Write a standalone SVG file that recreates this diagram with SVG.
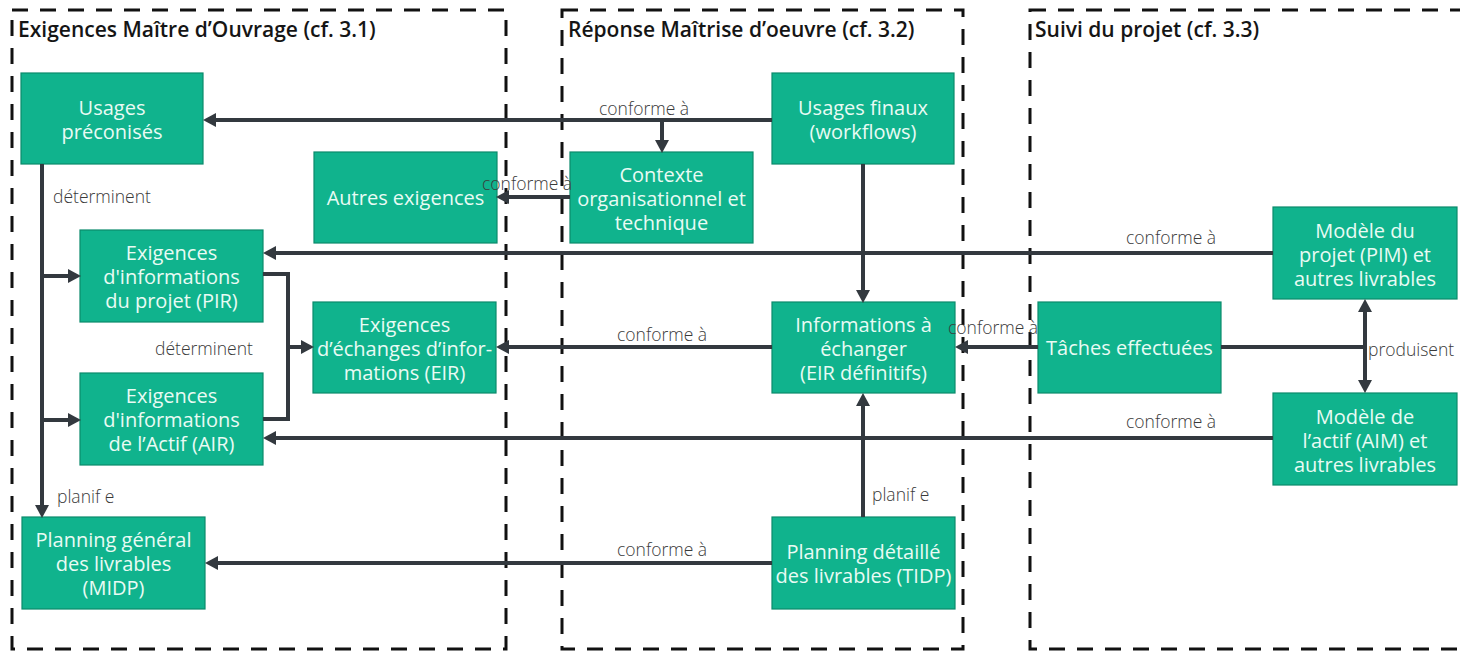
<svg xmlns="http://www.w3.org/2000/svg" width="1460" height="651" viewBox="0 0 1460 651">
  <style>
    .zone { fill: none; stroke: #111; stroke-width: 3; stroke-dasharray: 16 12; }
    .title { font-family: "Open Sans", "Liberation Sans", sans-serif; font-size: 21px; font-weight: 600; fill: #151515; }
    .box { fill: #10b38d; stroke: #0b8a6c; stroke-width: 1.2; }
    .btxt { font-family: "Open Sans", "Liberation Sans", sans-serif; font-size: 20px; fill: #e9fbf4; text-anchor: middle; }
    .lbl { font-family: "Open Sans", "Liberation Sans", sans-serif; font-size: 17.5px; font-weight: 300; fill: #3a3a3a; }
    .conn { fill: none; stroke: #33393f; stroke-width: 4; }
    .arr { marker-end: url(#head); }
    .both { marker-start: url(#tail); marker-end: url(#head); }
  </style>
  <defs>
    <marker id="head" markerUnits="userSpaceOnUse" markerWidth="13" markerHeight="14" refX="6" refY="7" orient="auto">
      <path d="M0,0 L13,7 L0,14 z" fill="#33393f"/>
    </marker>
    <marker id="tail" markerUnits="userSpaceOnUse" markerWidth="13" markerHeight="14" refX="7" refY="7" orient="auto">
      <path d="M13,0 L0,7 L13,14 z" fill="#33393f"/>
    </marker>
  </defs>

  <rect width="1460" height="651" fill="#ffffff"/>

  <!-- swimlane zones -->
  <g id="zones">
    <rect class="zone" x="12" y="10" width="494" height="639"/>
    <rect class="zone" x="562" y="10" width="401" height="639"/>
    <rect class="zone" x="1030" y="10" width="440" height="639"/>
    <text class="title" x="18" y="37">Exigences Maître d’Ouvrage (cf. 3.1)</text>
    <text class="title" x="568" y="37">Réponse Maîtrise d’oeuvre (cf. 3.2)</text>
    <text class="title" x="1035" y="37">Suivi du projet (cf. 3.3)</text>
  </g>

  <!-- nodes -->
  <g id="usages-preconises">
    <rect class="box" x="21" y="73" width="182" height="91"/>
    <text class="btxt" x="112" y="115">Usages</text>
    <text class="btxt" x="112" y="139">préconisés</text>
  </g>
  <g id="autres-exigences">
    <rect class="box" x="314" y="152" width="183" height="91"/>
    <text class="btxt" x="405.5" y="205">Autres exigences</text>
  </g>
  <g id="contexte">
    <rect class="box" x="570" y="152" width="183" height="91"/>
    <text class="btxt" x="661.5" y="182">Contexte</text>
    <text class="btxt" x="661.5" y="206">organisationnel et</text>
    <text class="btxt" x="661.5" y="230">technique</text>
  </g>
  <g id="usages-finaux">
    <rect class="box" x="772" y="73" width="182" height="91"/>
    <text class="btxt" x="863" y="115">Usages finaux</text>
    <text class="btxt" x="863" y="139">(workflows)</text>
  </g>
  <g id="pir">
    <rect class="box" x="80" y="230" width="183" height="92"/>
    <text class="btxt" x="171.5" y="260">Exigences</text>
    <text class="btxt" x="171.5" y="284">d'informations</text>
    <text class="btxt" x="171.5" y="308">du projet (PIR)</text>
  </g>
  <g id="eir">
    <rect class="box" x="313" y="302" width="183" height="91"/>
    <text class="btxt" x="404.5" y="332">Exigences</text>
    <text class="btxt" x="404.5" y="356">d’échanges d’infor-</text>
    <text class="btxt" x="404.5" y="380">mations (EIR)</text>
  </g>
  <g id="air">
    <rect class="box" x="80" y="373" width="183" height="92"/>
    <text class="btxt" x="171.5" y="403">Exigences</text>
    <text class="btxt" x="171.5" y="427">d'informations</text>
    <text class="btxt" x="171.5" y="451">de l’Actif (AIR)</text>
  </g>
  <g id="midp">
    <rect class="box" x="22" y="517" width="183" height="92"/>
    <text class="btxt" x="113.5" y="547">Planning général</text>
    <text class="btxt" x="113.5" y="571">des livrables</text>
    <text class="btxt" x="113.5" y="595">(MIDP)</text>
  </g>
  <g id="informations-a-echanger">
    <rect class="box" x="772" y="302" width="183" height="91"/>
    <text class="btxt" x="863.5" y="332">Informations à</text>
    <text class="btxt" x="863.5" y="356">échanger</text>
    <text class="btxt" x="863.5" y="380">(EIR définitifs)</text>
  </g>
  <g id="tidp">
    <rect class="box" x="772" y="517" width="183" height="92"/>
    <text class="btxt" x="863.5" y="559">Planning détaillé</text>
    <text class="btxt" x="863.5" y="583">des livrables (TIDP)</text>
  </g>
  <g id="pim">
    <rect class="box" x="1273" y="207" width="184" height="92"/>
    <text class="btxt" x="1365" y="238">Modèle du</text>
    <text class="btxt" x="1365" y="262">projet (PIM) et</text>
    <text class="btxt" x="1365" y="286">autres livrables</text>
  </g>
  <g id="taches-effectuees">
    <rect class="box" x="1038" y="302" width="183" height="91"/>
    <text class="btxt" x="1129.5" y="355">Tâches effectuées</text>
  </g>
  <g id="aim">
    <rect class="box" x="1273" y="393" width="184" height="92"/>
    <text class="btxt" x="1365" y="424">Modèle de</text>
    <text class="btxt" x="1365" y="448">l’actif (AIM) et</text>
    <text class="btxt" x="1365" y="472">autres livrables</text>
  </g>

  <!-- connectors and their labels, drawn over the nodes -->
  <g id="connectors">
    <path class="conn arr" d="M772,120 H210"/>
    <path class="conn arr" d="M662,120 V146"/>
    <path class="conn arr" d="M570,197 H503"/>
    <path class="conn arr" d="M863,164 V296"/>
    <path class="conn arr" d="M1273,253 H270"/>
    <path class="conn arr" d="M772,347 H503"/>
    <path class="conn arr" d="M1038,347 H962"/>
    <path class="conn" d="M1221,347 H1365"/>
    <path class="conn both" d="M1365,306 V386"/>
    <path class="conn arr" d="M1273,438 H270"/>
    <path class="conn arr" d="M772,563 H212"/>
    <path class="conn arr" d="M863,517 V400"/>
    <path class="conn arr" d="M42,164 V511"/>
    <path class="conn arr" d="M42,276 H74"/>
    <path class="conn arr" d="M42,420 H74"/>
    <path class="conn" d="M263,274 H288 V419 H263"/>
    <path class="conn arr" d="M288,347 H307"/>

    <text class="lbl" x="599" y="115">conforme à</text>
    <text class="lbl" x="482" y="190">conforme à</text>
    <text class="lbl" x="53" y="203">déterminent</text>
    <text class="lbl" x="1126" y="244">conforme à</text>
    <text class="lbl" x="155" y="355">déterminent</text>
    <text class="lbl" x="617" y="341">conforme à</text>
    <text class="lbl" x="948" y="334">conforme à</text>
    <text class="lbl" x="1368" y="356">produisent</text>
    <text class="lbl" x="1126" y="428">conforme à</text>
    <text class="lbl" x="57" y="503">planif e</text>
    <text class="lbl" x="617" y="556">conforme à</text>
    <text class="lbl" x="872" y="501">planif e</text>
  </g>
</svg>
